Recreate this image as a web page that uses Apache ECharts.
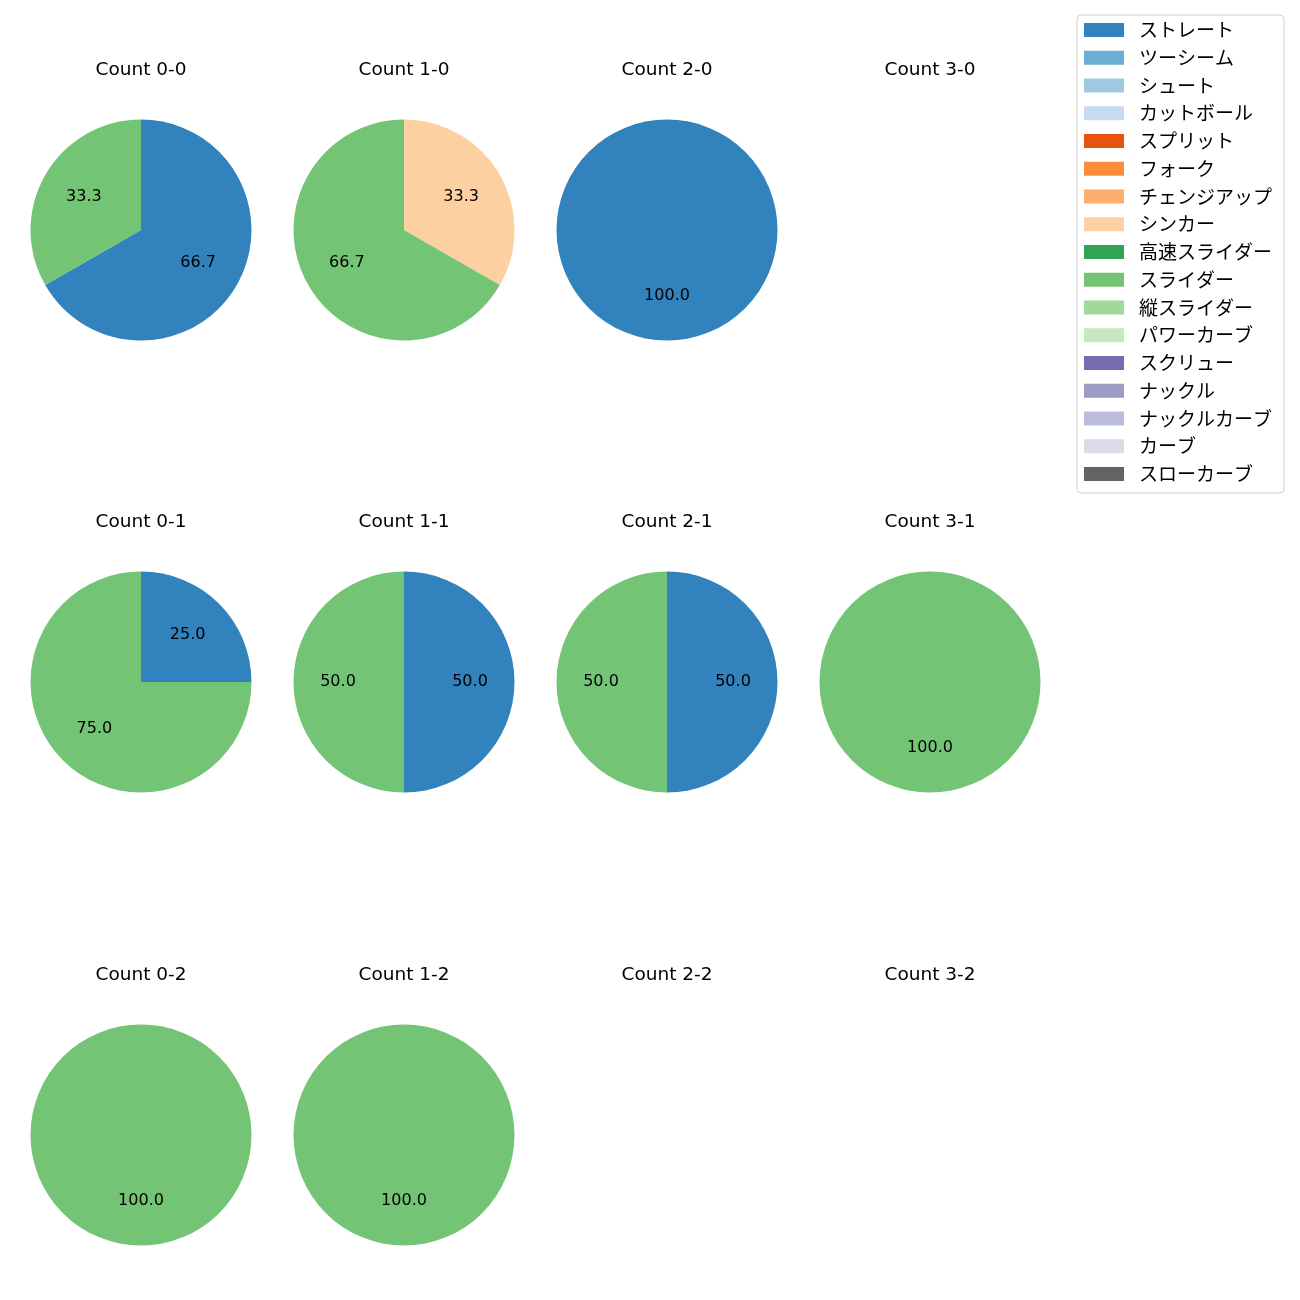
<!DOCTYPE html>
<html><head><meta charset="utf-8">
<script src="https://cdn.jsdelivr.net/npm/echarts@6/dist/echarts.min.js"></script>
<style>html,body{margin:0;padding:0;background:#fff}#c{width:1300px;height:1300px}</style>
</head><body><div id="c"></div>
<script>
const pitchTypes = ['ストレート','ツーシーム','シュート','カットボール','スプリット','フォーク','チェンジアップ','シンカー','高速スライダー','スライダー','縦スライダー','パワーカーブ','スクリュー','ナックル','ナックルカーブ','カーブ','スローカーブ'];
const pitchColors = ['#3182bd','#6baed6','#9ecae1','#c6dbef','#e6550d','#fd8d3c','#fdae6b','#fdd0a2','#31a354','#74c476','#a1d99b','#c7e9c0','#756bb1','#9e9ac8','#bcbddc','#dadaeb','#636363'];
const countTitles = ['Count 0-0','Count 1-0','Count 2-0','Count 3-0','Count 0-1','Count 1-1','Count 2-1','Count 3-1','Count 0-2','Count 1-2','Count 2-2','Count 3-2'];
// percentages per count, keyed by pitch type
const countData = [
  {'ストレート':66.7,'スライダー':33.3},
  {'シンカー':33.3,'スライダー':66.7},
  {'ストレート':100.0},
  {},
  {'ストレート':25.0,'スライダー':75.0},
  {'ストレート':50.0,'スライダー':50.0},
  {'ストレート':50.0,'スライダー':50.0},
  {'スライダー':100.0},
  {'スライダー':100.0},
  {'スライダー':100.0},
  {},
  {}
];

const colX = [141, 404, 667, 930];
const rowY = [230, 682, 1135];
const R = 110.5;
const LATIN = '"DejaVu Sans", sans-serif';
const JP = '"Noto Sans CJK JP", "Noto Sans", sans-serif';

const colorOf = n => pitchColors[pitchTypes.indexOf(n)];
const series = [];
const titles = [];
countTitles.forEach((t, i) => {
  const cx = colX[i % 4], cy = rowY[Math.floor(i / 4)];
  titles.push({text: t, left: cx, top: cy - 169, textAlign: 'center', padding: 0,
    textStyle: {fontFamily: LATIN, fontSize: 18.5, fontWeight: 'normal', color: '#000'}});
  const d = pitchTypes.filter(p => countData[i][p] !== undefined)
    .map(p => ({name: p, value: countData[i][p], itemStyle: {color: colorOf(p)}}));
  if (!d.length) return;
  series.push({type: 'pie', center: [cx, cy], radius: [0, R], startAngle: 90, clockwise: true,
    data: d, label: {show: false}, labelLine: {show: false}, silent: true, animation: false,
    emphasis: {disabled: true}});
  series.push({type: 'pie', center: [cx, cy], radius: [0, 126], startAngle: 90, clockwise: true,
    data: d.map(x => ({name: x.name, value: x.value, itemStyle: {color: 'rgba(0,0,0,0)'}})),
    label: {show: true, position: 'inside', formatter: p => p.value.toFixed(1),
      fontFamily: LATIN, fontSize: 16, color: '#000'},
    labelLine: {show: false}, silent: true, animation: false, legendHoverLink: false,
    emphasis: {disabled: true}, z: 3});
});
// hidden series so every pitch type appears in the legend
series.push({type: 'pie', center: [-100, -100], radius: [0, 1], silent: true, animation: false,
  label: {show: false}, labelLine: {show: false},
  data: pitchTypes.map(p => ({name: p, value: 1, itemStyle: {color: colorOf(p)}}))});

const chart = echarts.init(document.getElementById('c'), null, {renderer: 'canvas'});
chart.setOption({
  backgroundColor: '#fff',
  animation: false,
  title: titles,
  legend: {
    orient: 'vertical', left: 1077, top: 15,
    data: pitchTypes,
    icon: 'rect', itemWidth: 40, itemHeight: 14, itemGap: 7.75,
    padding: [5, 12, 9, 7],
    borderColor: '#d0d0d0', borderWidth: 1, borderRadius: 4,
    backgroundColor: 'rgba(255,255,255,0.8)',
    selectedMode: false,
    textStyle: {fontFamily: JP, fontSize: 19, color: '#000', lineHeight: 20, padding: [0,0,0,10]}
  },
  series: series
});
</script></body></html>
